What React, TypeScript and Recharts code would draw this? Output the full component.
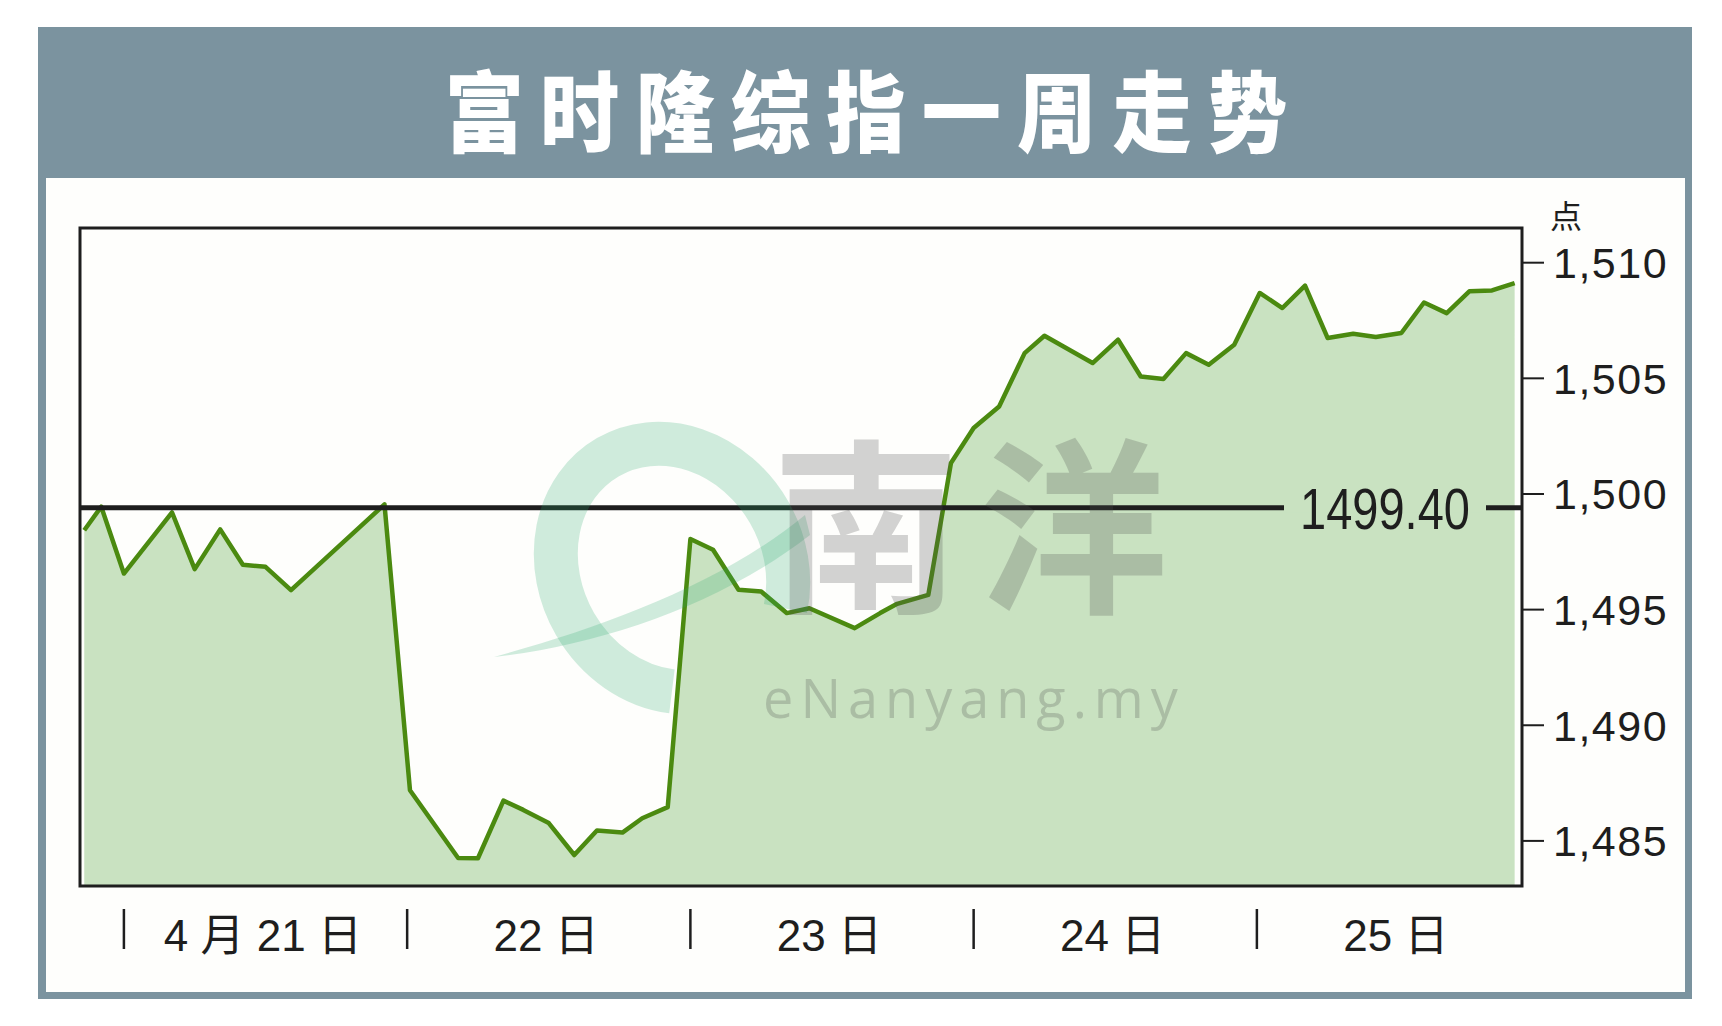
import {
  AreaChart,
  Area,
  XAxis,
  YAxis,
  ReferenceLine,
  ReferenceArea,
} from "recharts";

// FBM KLCI, one week, intraday (x = day of April, fractional)
const times = [
  20.86, 20.92, 21.0, 21.17, 21.25, 21.34, 21.42, 21.5, 21.59, 21.92,
  22.01, 22.18, 22.25, 22.34, 22.41, 22.5, 22.59, 22.67, 22.76, 22.83, 22.92,
  23.0, 23.08, 23.17, 23.25, 23.34, 23.42, 23.58, 23.67, 23.73, 23.84, 23.92,
  24.0, 24.09, 24.18, 24.25, 24.42, 24.51, 24.59, 24.67, 24.75, 24.83, 24.92,
  25.01, 25.09, 25.17, 25.25, 25.34, 25.42, 25.51, 25.59, 25.67, 25.75, 25.83, 25.91,
];
const points = [
  1498.43, 1499.45, 1496.56, 1499.2, 1496.75, 1498.47, 1496.94, 1496.85, 1495.84, 1499.55,
  1487.19, 1484.26, 1484.25, 1486.74, 1486.34, 1485.77, 1484.39, 1485.45, 1485.36, 1485.98, 1486.46,
  1498.05, 1497.59, 1495.86, 1495.78, 1494.85, 1495.06, 1494.2, 1494.85, 1495.25, 1495.64, 1501.34,
  1502.85, 1503.78, 1506.09, 1506.84, 1505.66, 1506.67, 1505.08, 1504.97, 1506.09, 1505.59, 1506.45,
  1508.69, 1508.04, 1509.01, 1506.74, 1506.93, 1506.79, 1506.96, 1508.28, 1507.82, 1508.76, 1508.8, 1509.12,
];

const dayTicks = [21, 22, 23, 24, 25];
const dayLabels = ["4 月 21 日", "22 日", "23 日", "24 日", "25 日"];
const priceTicks = [1485, 1490, 1495, 1500, 1505, 1510];
const prevClose = 1499.4;

const xDomain = [20.845, 25.936];
const yDomain = [1483.05, 1511.5];

const data = times.map((t, i) => ({ t, v: points[i] }));

const FONT = "'Liberation Sans', Arial, 'Noto Sans CJK SC', sans-serif";
const INK = "#1e1e1e";
const FILL = "#c9e2c1";
const LINE = "#4b8a10";
const FRAME = "#7b939f";

const DayTick = (props: any) => {
  const { x, y, payload } = props;
  const label = dayLabels[dayTicks.indexOf(payload.value)] ?? "";
  return (
    <g>
      <line x1={x} x2={x} y1={y + 23} y2={y + 63} stroke={INK} strokeWidth={2.5} />
      <text
        x={x + 139}
        y={y + 49}
        textAnchor="middle"
        dominantBaseline="central"
        fontSize={44}
        fill={INK}
        fontFamily={FONT}
      >
        {label}
      </text>
    </g>
  );
};

const PrevCloseLabel = (props: any) => {
  const vb = props.viewBox || {};
  const cx = vb.x + vb.width - 137;
  const cy = vb.y;
  return (
    <g>
      <rect x={cx - 101} y={cy - 5} width={202} height={10} fill={FILL} />
      <text
        x={cx}
        y={cy + 21}
        textAnchor="middle"
        fontSize={58}
        fill={INK}
        fontFamily={FONT}
        textLength={170}
        lengthAdjust="spacingAndGlyphs"
      >
        {prevClose.toFixed(2)}
      </text>
    </g>
  );
};

const Watermark = () => (
  <svg
    width={1722}
    height={1026}
    style={{ position: "absolute", left: 0, top: 0, pointerEvents: "none" }}
  >
    <ellipse
      cx={672}
      cy={568}
      rx={112}
      ry={128}
      transform="rotate(-30 672 568)"
      fill="none"
      stroke="rgba(40,170,110,0.22)"
      strokeWidth={44}
      strokeDasharray="600 155"
      strokeDashoffset={500}
    />
    <path
      d="M494 657 C600 628 720 585 805 515 L810 535 C720 605 600 645 494 657 Z"
      fill="rgba(40,170,110,0.22)"
    />
    <text
      x={980}
      y={598}
      textAnchor="middle"
      fontSize={188}
      fontWeight={700}
      fill="rgba(80,80,80,0.25)"
      fontFamily="'Noto Sans CJK SC', sans-serif"
      letterSpacing={20}
    >
      南洋
    </text>
    <text
      x={974}
      y={718}
      textAnchor="middle"
      fontSize={54}
      fill="rgba(80,80,80,0.25)"
      fontFamily="'Open Sans', 'DejaVu Sans', sans-serif"
      letterSpacing={7}
    >
      eNanyang.my
    </text>
  </svg>
);

export default function App() {
  return (
    <div
      style={{
        position: "absolute",
        left: 0,
        top: 0,
        width: 1722,
        height: 1026,
        background: "#ffffff",
        overflow: "hidden",
      }}
    >
      {/* frame + header */}
      <div
        style={{
          position: "absolute",
          left: 38,
          top: 27,
          width: 1654,
          height: 972,
          background: FRAME,
        }}
      />
      <div
        style={{
          position: "absolute",
          left: 46,
          top: 178,
          width: 1639,
          height: 814,
          background: "#fefefc",
        }}
      />
      <div
        style={{
          position: "absolute",
          left: 38,
          top: 27,
          width: 1654,
          height: 151,
          display: "flex",
          alignItems: "center",
          justifyContent: "center",
        }}
      >
        <div
          style={{
            color: "#ffffff",
            fontFamily: "'Noto Sans CJK SC', sans-serif",
            fontWeight: 900,
            fontSize: 88,
            letterSpacing: 18,
            marginLeft: 18,
            marginTop: 8,
            transform: "scaleX(0.9)",
            whiteSpace: "nowrap",
            lineHeight: 1,
          }}
        >
          富时隆综指一周走势
        </div>
      </div>
      <div
        style={{
          position: "absolute",
          left: 1546,
          top: 198,
          width: 40,
          textAlign: "center",
          fontFamily: "'Noto Sans CJK SC', sans-serif",
          fontSize: 32,
          lineHeight: 1,
          color: INK,
        }}
      >
        点
      </div>

      <div style={{ position: "absolute", left: 0, top: 0 }}>
        <AreaChart
          width={1722}
          height={1026}
          data={data}
          margin={{ top: 228, left: 80, right: 50, bottom: 60 }}
        >
          <XAxis
            dataKey="t"
            type="number"
            domain={xDomain}
            ticks={dayTicks}
            allowDataOverflow
            axisLine={false}
            tickLine={false}
            tickSize={0}
            tickMargin={0}
            height={80}
            tick={<DayTick />}
          />
          <YAxis
            orientation="right"
            type="number"
            domain={yDomain}
            ticks={priceTicks}
            allowDataOverflow
            width={150}
            axisLine={false}
            stroke={INK}
            tickLine={{ stroke: INK, strokeWidth: 2 }}
            tickSize={22}
            tickMargin={9}
            tickFormatter={(v: number) => v.toLocaleString("en-US")}
            tick={{ fill: INK, fontSize: 43, fontFamily: FONT, letterSpacing: 1.5 }}
          />
          <Area
            type="linear"
            dataKey="v"
            stroke={LINE}
            strokeWidth={4.5}
            strokeLinejoin="round"
            fill={FILL}
            fillOpacity={1}
            dot={false}
            activeDot={false}
            isAnimationActive={false}
          />
          <ReferenceLine
            y={prevClose}
            stroke={INK}
            strokeWidth={5}
            label={<PrevCloseLabel />}
          />
          <ReferenceArea
            x1={xDomain[0]}
            x2={xDomain[1]}
            y1={yDomain[0]}
            y2={yDomain[1]}
            fill="none"
            fillOpacity={0}
            stroke={INK}
            strokeWidth={3}
            ifOverflow="visible"
          />
        </AreaChart>
      </div>
      <Watermark />
    </div>
  );
}
